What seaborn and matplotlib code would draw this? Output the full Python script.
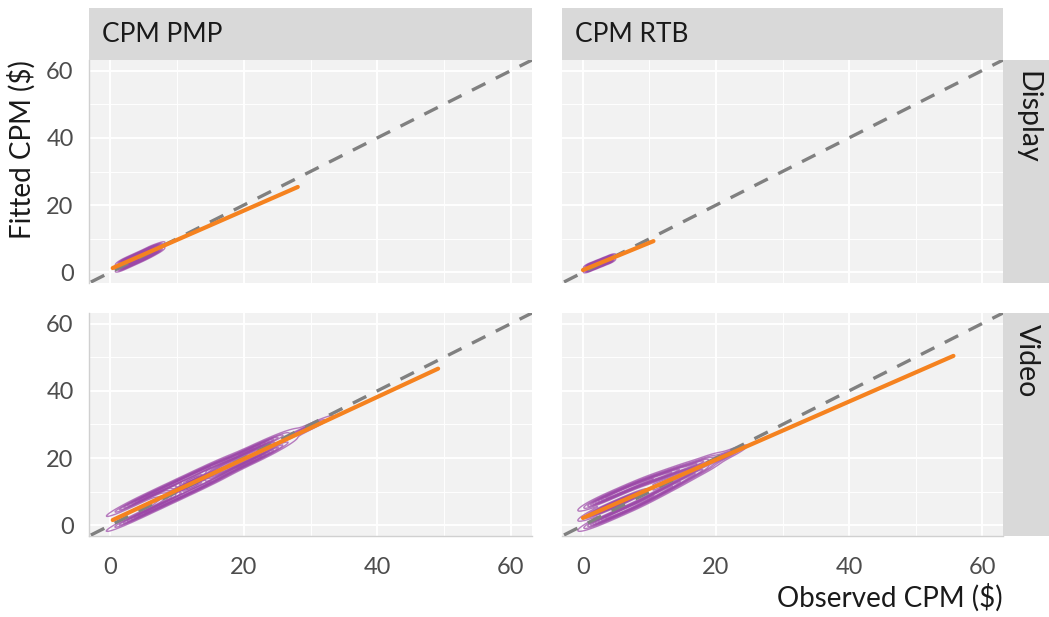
import numpy as np
import pandas as pd
import matplotlib
matplotlib.use("Agg")
import matplotlib.pyplot as plt
from matplotlib.patches import Rectangle
from matplotlib.ticker import MultipleLocator
import seaborn as sns

# ---------------- data ----------------
col_labels = ["CPM PMP", "CPM RTB"]
row_labels = ["Display", "Video"]
x_ticks = [0, 20, 40, 60]
y_ticks = [0, 20, 40, 60]

pmp_display_obs = [2, 2, 3, 3, 4, 4, 5, 5, 6, 6, 7, 7]
pmp_display_fit = [3.4, 1.4, 4.3, 2.3, 5.2, 3.2, 6.1, 4.1, 7.1, 5.1, 7.8, 6.2]

rtb_display_obs = [1, 1, 2, 2, 3, 3, 4, 4]
rtb_display_fit = [2.2, 0.8, 3.0, 1.6, 3.8, 2.4, 4.6, 3.2]

pmp_video_obs = [2.5, 2.5, 4, 4, 5.5, 5.5, 7, 7, 8.5, 8.5,
                 10, 10, 10, 10, 11.5, 11.5, 11.5, 11.5, 13, 13, 13, 13,
                 14.5, 14.5, 14.5, 14.5, 16, 16, 17.5, 17.5, 19, 19, 20.5, 20.5,
                 22, 22, 23.5, 23.5, 25, 25, 26, 29.5, 30]
pmp_video_fit = [5.6, 1.2, 7.2, 2.6, 8.6, 4.0, 10.0, 5.4, 11.4, 6.8,
                 12.8, 8.2, 11.5, 9.5, 14.2, 9.6, 12.9, 10.9, 15.6, 11.0, 14.3, 12.3,
                 17.0, 12.4, 15.7, 13.7, 18.4, 13.8, 19.3, 15.7, 20.7, 17.1, 22.1, 18.5,
                 23.5, 19.9, 24.9, 21.3, 25.8, 23.2, 25.5, 28.9, 29.4]

rtb_video_obs = [2, 2, 2, 3.5, 3.5, 3.5, 5, 5, 5, 6.5, 6.5, 6.5, 8, 8, 8,
                 9.5, 9.5, 11, 11, 12.5, 12.5, 14, 14, 16, 16, 18, 18, 20, 22]
rtb_video_fit = [6.9, 0.9, 3.9, 8.2, 2.2, 5.2, 9.5, 3.5, 6.5, 10.8, 4.8, 7.8, 12.1, 6.1, 9.1,
                 13.2, 7.6, 14.2, 9.2, 15.2, 10.8, 16.3, 12.3, 17.5, 14.5, 19.0, 16.6, 19.5, 21.3]

# fitted regression lines (endpoints)
pmp_display_line_x = [0.4, 28.1]
pmp_display_line_y = [1.3, 25.4]
rtb_display_line_x = [0.0, 10.6]
rtb_display_line_y = [0.7, 9.3]
pmp_video_line_x = [0.4, 49.1]
pmp_video_line_y = [1.6, 46.6]
rtb_video_line_x = [0.0, 55.7]
rtb_video_line_y = [2.2, 50.4]

# identity reference line
identity_x = [-10, 80]
identity_y = [-10, 80]

# ---------------- build tables ----------------
pts = pd.concat([
    pd.DataFrame({"obs": pmp_display_obs, "fit": pmp_display_fit, "col": "CPM PMP", "row": "Display"}),
    pd.DataFrame({"obs": rtb_display_obs, "fit": rtb_display_fit, "col": "CPM RTB", "row": "Display"}),
    pd.DataFrame({"obs": pmp_video_obs, "fit": pmp_video_fit, "col": "CPM PMP", "row": "Video"}),
    pd.DataFrame({"obs": rtb_video_obs, "fit": rtb_video_fit, "col": "CPM RTB", "row": "Video"}),
], ignore_index=True)

lines = pd.concat([
    pd.DataFrame({"x": pmp_display_line_x, "y": pmp_display_line_y, "col": "CPM PMP", "row": "Display"}),
    pd.DataFrame({"x": rtb_display_line_x, "y": rtb_display_line_y, "col": "CPM RTB", "row": "Display"}),
    pd.DataFrame({"x": pmp_video_line_x, "y": pmp_video_line_y, "col": "CPM PMP", "row": "Video"}),
    pd.DataFrame({"x": rtb_video_line_x, "y": rtb_video_line_y, "col": "CPM RTB", "row": "Video"}),
], ignore_index=True)

# ---------------- style ----------------
sns.set_theme(style="white")
plt.rcParams["font.family"] = ["Lato", "DejaVu Sans"]

W, H = 1049, 617
fig = plt.figure(figsize=(W / 100, H / 100), dpi=100)

panel_bg = "#f2f2f2"
strip_bg = "#d9d9d9"
purple = "#9c48a8"
orange = "#f5821f"
tick_color = "#4d4d4d"

col_x = [(89, 532), (562, 1003)]
row_y = [(60, 283), (313, 536)]
lim = (-3.15, 63.15)


def fx(px):
    return px / W


def fy(py):
    return 1 - py / H


for ri, rname in enumerate(row_labels):
    for ci, cname in enumerate(col_labels):
        x0, x1 = col_x[ci]
        y0, y1 = row_y[ri]
        ax = fig.add_axes([fx(x0), fy(y1), (x1 - x0) / W, (y1 - y0) / H])
        ax.set_facecolor(panel_bg)
        ax.set_xlim(lim)
        ax.set_ylim(lim)
        ax.set_xticks(x_ticks)
        ax.set_yticks(y_ticks)
        ax.xaxis.set_minor_locator(MultipleLocator(10))
        ax.yaxis.set_minor_locator(MultipleLocator(10))
        ax.grid(which="major", color="white", linewidth=1.4)
        ax.grid(which="minor", color="white", linewidth=0.7)
        ax.set_axisbelow(True)

        sub = pts[(pts["row"] == rname) & (pts["col"] == cname)]
        sns.kdeplot(data=sub, x="obs", y="fit", ax=ax, levels=10, thresh=0.04,
                    bw_adjust=0.5, color=purple, linewidths=1.0, alpha=0.7)

        ax.plot(identity_x, identity_y, color="#808080", linewidth=2.4,
                linestyle=(0, (4.5, 3.5)), zorder=3)

        lsub = lines[(lines["row"] == rname) & (lines["col"] == cname)]
        sns.lineplot(data=lsub, x="x", y="y", ax=ax, color=orange, linewidth=3.0,
                     zorder=4, estimator=None, sort=False)

        ax.set_xlim(lim)
        ax.set_ylim(lim)
        ax.set_xlabel("")
        ax.set_ylabel("")
        for s in ax.spines.values():
            s.set_visible(False)

        ax.tick_params(axis="both", which="minor", length=0)
        if ci == 0:
            ax.spines["left"].set_visible(True)
            ax.spines["left"].set_color("#d0d0d0")
            ax.spines["left"].set_linewidth(1.0)
            ax.tick_params(axis="y", which="major", length=9, width=1.2,
                           color=tick_color, labelcolor=tick_color, labelsize=17, pad=2)
        else:
            ax.tick_params(axis="y", which="major", length=0, labelleft=False)
        if ri == 1:
            ax.spines["bottom"].set_visible(True)
            ax.spines["bottom"].set_color("#d0d0d0")
            ax.spines["bottom"].set_linewidth(1.0)
            ax.tick_params(axis="x", which="major", length=12, width=1.2,
                           color=tick_color, labelcolor=tick_color, labelsize=17, pad=3)
        else:
            ax.tick_params(axis="x", which="major", length=0, labelbottom=False)

# top strips
for ci, cname in enumerate(col_labels):
    x0, x1 = col_x[ci]
    fig.patches.append(Rectangle((fx(x0), fy(60)), (x1 - x0) / W, 52 / H,
                                 transform=fig.transFigure, facecolor=strip_bg,
                                 edgecolor="none", zorder=0))
    fig.text(fx(x0 + 13), fy(35), cname, ha="left", va="center",
             fontsize=19, color="#1a1a1a")

# right strips
for ri, rname in enumerate(row_labels):
    y0, y1 = row_y[ri]
    fig.patches.append(Rectangle((fx(1003), fy(y1)), 50 / W, (y1 - y0) / H,
                                 transform=fig.transFigure, facecolor=strip_bg,
                                 edgecolor="none", zorder=0))
    fig.text(fx(1027), fy(y0 + 11), rname, ha="center", va="top", rotation=-90,
             fontsize=20.5, color="#1a1a1a")

fig.text(fx(22), fy(60), "Fitted CPM ($)", ha="center", va="top", rotation=90,
         fontsize=20, color="#1a1a1a")
fig.text(fx(1003), fy(598), "Observed CPM ($)", ha="right", va="center",
         fontsize=20, color="#1a1a1a")

fig.savefig("out.png", dpi=100)
